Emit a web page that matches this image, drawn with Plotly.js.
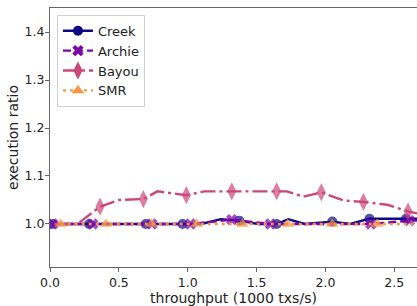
<!DOCTYPE html>
<html><head><meta charset="utf-8">
<script src="https://cdn.plot.ly/plotly-3.0.1.min.js"></script>
<style>html,body{margin:0;padding:0;background:#fff}#chart{width:417px;height:306px}</style>
</head><body><div id="chart"></div>
<script>
// Series data (x in 1000 txs/s, y = execution ratio); *Mark = 1 where a marker is drawn
var creekX    = [0.02, 0.15, 0.285, 0.42, 0.56, 0.695, 0.83, 0.963, 1.1, 1.24, 1.375, 1.51, 1.646, 1.73, 1.85, 2.05, 2.18, 2.32, 2.45, 2.585, 2.7];
var creekY    = [1.0, 1.0, 1.0, 1.0, 1.0, 1.0, 1.0, 1.0, 1.0, 1.01, 1.007, 1.0, 1.0, 1.01, 1.0, 1.005, 1.0, 1.011, 1.011, 1.011, 1.011];
var creekMark = [1, 0, 1, 0, 0, 1, 0, 1, 0, 0, 1, 0, 1, 0, 0, 1, 0, 1, 0, 1, 0];

var archieX    = [0.02, 0.31, 0.74, 1.02, 1.32, 1.6, 2.0, 2.33, 2.61, 2.7];
var archieY    = [1.0, 1.0, 1.0, 1.0, 1.009, 1.0, 1.0, 1.0, 1.007, 1.007];
var archieMark = [1, 1, 1, 1, 1, 1, 0, 1, 1, 0];

var bayouX    = [0.03, 0.2, 0.363, 0.5, 0.678, 0.78, 0.99, 1.12, 1.32, 1.5, 1.646, 1.72, 1.84, 1.97, 2.13, 2.276, 2.45, 2.6, 2.7];
var bayouY    = [1.0, 1.0, 1.036, 1.05, 1.052, 1.068, 1.06, 1.068, 1.068, 1.068, 1.068, 1.068, 1.057, 1.066, 1.049, 1.046, 1.04, 1.026, 1.02];
var bayouMark = [0, 0, 1, 0, 1, 0, 1, 0, 1, 0, 1, 0, 0, 1, 0, 1, 0, 1, 0];

var smrX    = [0.078, 0.407, 0.739, 1.065, 1.397, 1.726, 2.05, 2.377, 2.71];
var smrY    = [1.0, 1.0, 1.0, 1.0, 1.0, 1.0, 1.0, 1.0, 1.0];
var smrMark = [1, 1, 1, 1, 1, 1, 1, 1, 1];

var names = ['Creek', 'Archie', 'Bayou', 'SMR'];
var xTickVals = [0, 0.5, 1.0, 1.5, 2.0, 2.5];
var xTickText = ['0.0', '0.5', '1.0', '1.5', '2.0', '2.5'];
var yTickVals = [1.0, 1.1, 1.2, 1.3, 1.4];
var yTickText = ['1.0', '1.1', '1.2', '1.3', '1.4'];

var styles = [
  {color: '#0d0887', dash: 'solid',              symbol: 'circle',       size: 10},
  {color: '#7e03a8', dash: '8px,4px',            symbol: 'x',            size: 10},
  {color: '#cc4778', dash: '15px,4px,3px,4px',   symbol: 'diamond-tall', size: 13},
  {color: '#f89540', dash: '3px,4px',            symbol: 'triangle-up',  size: 11}
];
var series = [[creekX, creekY, creekMark], [archieX, archieY, archieMark], [bayouX, bayouY, bayouMark], [smrX, smrY, smrMark]];

var traces = [];
series.forEach(function (s, i) {
  var st = styles[i];
  traces.push({
    x: s[0], y: s[1], type: 'scatter', mode: 'lines+markers', name: names[i],
    showlegend: false, cliponaxis: true,
    line: {color: st.color, width: 2.4, dash: st.dash},
    marker: {color: st.color, symbol: st.symbol, size: s[2].map(function (m) { return m ? st.size : 0; }), line: {width: 0}}
  });
});
series.forEach(function (s, i) {
  var st = styles[i];
  traces.push({
    x: [null], y: [null], type: 'scatter', mode: 'lines+markers', name: names[i],
    showlegend: true,
    line: {color: st.color, width: 2.4, dash: st.dash},
    marker: {color: st.color, symbol: st.symbol, size: st.size, line: {width: 0}}
  });
});

var layout = {
  width: 417, height: 306,
  margin: {l: 50, r: 0, t: 8, b: 39, pad: 0},
  paper_bgcolor: '#fff', plot_bgcolor: '#fff',
  font: {family: 'DejaVu Sans', size: 12, color: '#222'},
  showlegend: true,
  legend: {
    x: 0.019, y: 0.974, xanchor: 'left', yanchor: 'top',
    bgcolor: 'rgba(255,255,255,0.8)', bordercolor: '#d0d0d0', borderwidth: 1,
    font: {family: 'DejaVu Sans', size: 13, color: '#222'},
    tracegroupgap: 0, itemwidth: 30
  },
  xaxis: {
    range: [0, 2.665], tickvals: xTickVals, ticktext: xTickText,
    showgrid: false, zeroline: false, showline: true, linecolor: '#666', linewidth: 1, mirror: true,
    ticks: 'outside', ticklen: 4, tickcolor: '#666', tickfont: {size: 12.5}, ticklabelstandoff: 0,
    title: {text: 'throughput (1000 txs/s)', font: {size: 14}, standoff: 0}
  },
  yaxis: {
    range: [0.9104, 1.45], tickvals: yTickVals, ticktext: yTickText,
    showgrid: false, zeroline: false, showline: true, linecolor: '#666', linewidth: 1, mirror: false,
    ticks: 'outside', ticklen: 4, tickcolor: '#666', tickfont: {size: 12.5}, ticklabelstandoff: -2,
    title: {text: 'execution ratio', font: {size: 14}, standoff: 2}
  }
};

Plotly.newPlot('chart', traces, layout, {displayModeBar: false, staticPlot: true});
</script>
</body></html>
